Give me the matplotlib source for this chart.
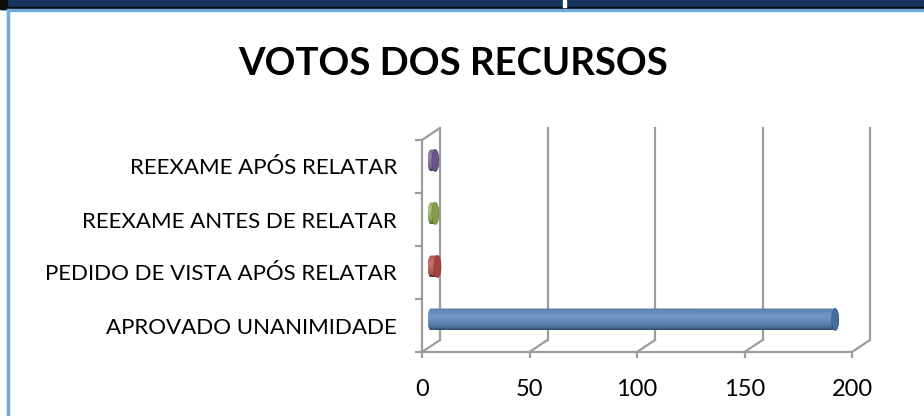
import numpy as np
import matplotlib.pyplot as plt
from matplotlib.patches import Rectangle, PathPatch, Ellipse
from matplotlib.path import Path
from matplotlib.colors import to_rgb

# dados do grafico
categorias = ["APROVADO UNANIMIDADE", "PEDIDO DE VISTA APÓS RELATAR",
              "REEXAME ANTES DE RELATAR", "REEXAME APÓS RELATAR"]
votos = [188, 3, 2, 2]
cores = ["#4F81BD", "#C0504D", "#9BBB59", "#8064A2"]
x_ticks = [0, 50, 100, 150, 200]
titulo = "VOTOS DOS RECURSOS"

plt.rcParams['font.family'] = ['Lato', 'DejaVu Sans']
GRID = "#9C9C9C"

fig = plt.figure(figsize=(9.24, 4.16), dpi=100)
W, H = 924, 416

# moldura da pagina (faixa azul no topo, bordas)
fig.patches.append(Rectangle((0, 1 - 7 / H), 1, 7 / H, transform=fig.transFigure, color="#17365D", zorder=0))
fig.patches.append(Rectangle((0, 1 - 8.5 / H), 1, 1.5 / H, transform=fig.transFigure, color="#0D0D0D", zorder=0))
fig.patches.append(Rectangle((0, 1 - 8.5 / H), 7 / W, 8.5 / H, transform=fig.transFigure, color="#0D0D0D", zorder=0))
fig.patches.append(Rectangle((563 / W, 1 - 7 / H), 2.5 / W, 7 / H, transform=fig.transFigure, color="white", zorder=1))
fig.patches.append(Rectangle((7 / W, 1 - 10.5 / H), 1 - 7 / W, 2 / H, transform=fig.transFigure, color="#6FA8DC", zorder=0))
fig.patches.append(Rectangle((7 / W, 0), 2 / W, 1 - 8.5 / H, transform=fig.transFigure, color="#6FA8DC", zorder=0))

fig.text(453 / W, 1 - 75 / H, titulo, ha='center', va='baseline', fontsize=27.5, fontweight='bold')

ax = fig.add_axes([422 / W, (H - 352) / H, 430 / W, 212 / H])
ax.set_xlim(0, 200)
ax.set_ylim(-0.5, len(categorias) - 0.5)
ax.set_autoscale_on(False)
ax.patch.set_alpha(0)

# profundidade 3D em unidades de dados (18 px para a direita, 12 px para cima)
p0 = ax.transData.transform((0, 0))
dx, dy = ax.transData.inverted().transform(p0 + np.array([18, 12]))
a = ax.transData.inverted().transform(p0 + np.array([3.5, 0]))[0]

y0, y1 = -0.5, len(categorias) - 0.5
for v in x_ticks:
    ax.plot([v + dx, v + dx], [y0 + dy, y1 + dy], color=GRID, lw=1.6, clip_on=False, zorder=1)
    ax.plot([v, v + dx], [y0, y0 + dy], color=GRID, lw=1.6, clip_on=False, zorder=1)
ax.plot([0, dx], [y1, y1 + dy], color=GRID, lw=1.6, clip_on=False, zorder=1)

for s in ['top', 'right']:
    ax.spines[s].set_visible(False)
for s in ['left', 'bottom']:
    ax.spines[s].set_color(GRID)
    ax.spines[s].set_linewidth(1.6)

# barras cilindricas
b = 0.2075
t = np.linspace(0, 1, 64)
for i, (v, c) in enumerate(zip(votos, cores)):
    yc = i + dy / 2
    xa, xb = dx / 2, v + dx / 2
    tl = np.linspace(np.pi / 2, 3 * np.pi / 2, 40)
    tr = np.linspace(-np.pi / 2, np.pi / 2, 40)
    xs = np.concatenate([xa + a * np.cos(tl), xb + a * np.cos(tr)])
    ys = np.concatenate([yc + b * np.sin(tl), yc + b * np.sin(tr)])
    forma = PathPatch(Path(np.column_stack([xs, ys]), closed=True), facecolor='none',
                      edgecolor='none', transform=ax.transData, clip_on=False)
    ax.add_patch(forma)
    base = np.array(to_rgb(c))
    escuro = base * 0.58
    claro = base + (1 - base) * 0.2
    # gradiente vertical: escuro embaixo, claro acima do meio
    k = np.interp(t, [0, 0.2, 0.62, 0.85, 1], [0, 0.6, 1, 0.8, 0.62])
    grad = escuro[None, :] + (claro - escuro)[None, :] * k[:, None]
    img = ax.imshow(grad[:, None, :], extent=[xa - a, xb + a, yc - b, yc + b], origin='lower',
                    aspect='auto', zorder=3, interpolation='bilinear')
    img.set_clip_path(forma)
    ax.add_patch(Ellipse((xb, yc), 2 * a, 2 * b, facecolor=base * 0.85, edgecolor=base * 0.7,
                         lw=0.5, zorder=4, clip_on=False))

ax.set_xlim(0, 200)
ax.set_ylim(y0, y1)
ax.set_xticks(x_ticks)
ax.set_xticklabels([str(v) for v in x_ticks])
ax.set_yticks(range(len(categorias)))
ax.set_yticklabels(categorias)
ax.set_yticks(np.arange(y0, y1 + 0.1, 1), minor=True)
ax.tick_params(axis='x', length=4.5, width=1.6, color=GRID, labelsize=17, pad=15)
ax.tick_params(axis='y', which='major', length=0, labelsize=16, pad=18)
ax.tick_params(axis='y', which='minor', length=5, width=1.6, color=GRID)

fig.savefig("out.png", dpi=100)
plt.close(fig)
